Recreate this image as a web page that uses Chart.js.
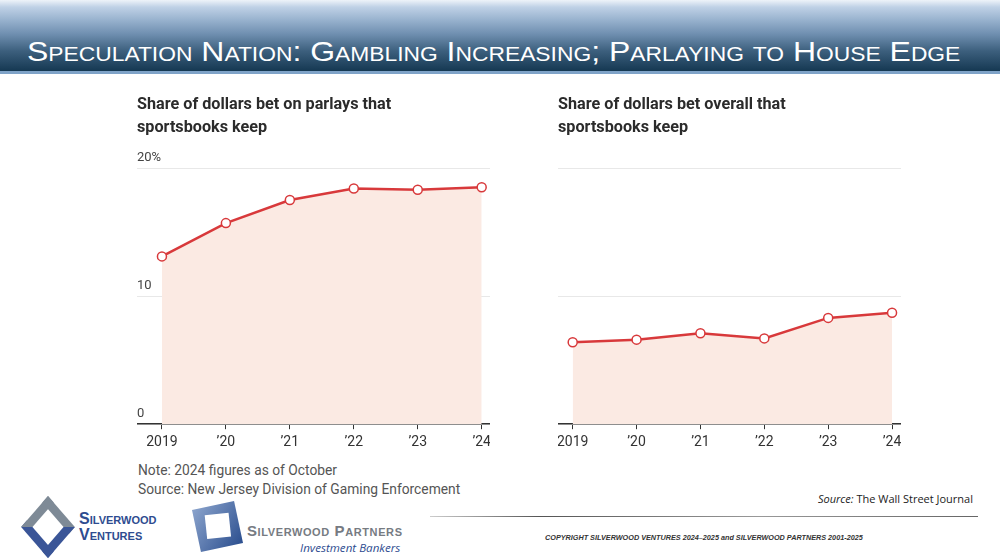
<!DOCTYPE html>
<html>
<head>
<meta charset="utf-8">
<script src="https://cdn.jsdelivr.net/npm/chart.js@4.4.1/dist/chart.umd.min.js"></script>
<style>
  html, body { margin: 0; padding: 0; background: #fff; }
  body { width: 1000px; height: 560px; position: relative; overflow: hidden; font-family: Roboto, "Noto Sans", sans-serif; }
  .header {
    position: absolute; left: 0; top: 0; width: 1000px; height: 71px;
    background: linear-gradient(to bottom, #eef3f9 0%, #bfd1e6 10%, #98b2ce 28%, #6f8fb0 48%, #3c5f7d 72%, #153852 100%);
    border-bottom: 3px solid #7fa3c8;
  }
  .header h1 {
    position: absolute; left: 27px; top: 36px; margin: 0;
    font-family: "Liberation Sans Narrow", "Arial Narrow", "Liberation Sans", sans-serif;
    font-weight: normal; font-size: 28px; line-height: 32px; color: #fff; font-variant: small-caps;
    white-space: nowrap; transform: scaleX(1.141); transform-origin: left center;
  }
  .box { position: absolute; }
  .note { position: absolute; left: 138px; top: 461px; font-size: 13.8px; line-height: 19px; color: #555; }
  .wsj { position: absolute; right: 27px; top: 491px; font-family: "Open Sans", sans-serif; font-size: 11px; color: #222; }
  .rule { position: absolute; left: 430px; top: 516px; width: 548px; height: 1px; background: linear-gradient(to right, #ccc, #555 20%, #999 60%, #666); }
  .copy { position: absolute; left: 545px; top: 533px; font-family: "Liberation Sans", sans-serif; font-size: 7.25px; font-style: italic; font-weight: bold; color: #333; white-space: nowrap; }
  .logo1 { position: absolute; left: 29px; top: 508px; width: 38px; height: 38px; transform: scaleY(1.15) rotate(45deg); border: 8px solid #3a5597; border-top-color: #7e8a96; border-left-color: #7e8a96; box-sizing: border-box; }
  .logo1t { position: absolute; left: 79px; top: 511px; font-family: "Liberation Sans", sans-serif; font-weight: bold; font-variant: small-caps; color: #2e4c90; font-size: 16px; line-height: 15.5px; }
  .logo2 { position: absolute; left: 196px; top: 505px; width: 43px; height: 43px; transform: rotate(-12deg); background: linear-gradient(135deg, #8aa3cc, #2c4f8f); }
  .logo2 i { position: absolute; left: 10px; top: 9px; width: 24px; height: 24px; background: #fff; transform: rotate(6deg); }
  .logo2t { position: absolute; left: 247px; top: 522px; font-family: "Liberation Sans", sans-serif; font-weight: bold; font-variant: small-caps; color: #767b82; font-size: 15px; letter-spacing: 0.6px; }
  .logo2s { position: absolute; left: 300px; top: 540px; font-family: "Open Sans", sans-serif; font-style: italic; color: #2e4c90; font-size: 11.6px; }
</style>
</head>
<body>
<div class="header"><h1>Speculation Nation: Gambling Increasing; Parlaying to House Edge</h1></div>

<div class="box" style="left:137px; top:93px; width:353px; height:363px;"><canvas id="parlayChart"></canvas></div>
<div class="box" style="left:558px; top:93px; width:343px; height:363px;"><canvas id="overallChart"></canvas></div>

<div class="note">Note: 2024 figures as of October<br>Source: New Jersey Division of Gaming Enforcement</div>
<div class="wsj"><i>Source:</i> The Wall Street Journal</div>
<div class="rule"></div>
<div class="copy">COPYRIGHT SILVERWOOD VENTURES 2024–2025 and SILVERWOOD PARTNERS 2001-2025</div>

<div class="logo1"></div>
<div class="logo1t">Silverwood<br>Ventures</div>
<div class="logo2"><i></i></div>
<div class="logo2t">Silverwood Partners</div>
<div class="logo2s">Investment Bankers</div>

<script>
// Datos
const years = [2019, 2020, 2021, 2022, 2023, 2024];
const yearLabels = ['2019', '’20', '’21', '’22', '’23', '’24'];
const parlayHold = [13.1, 15.7, 17.5, 18.4, 18.3, 18.5];
const overallHold = [6.4, 6.6, 7.1, 6.7, 8.3, 8.7];
const yTicks = [0, 10, 20];
const yTickLabels = ['0', '10', '20%'];

const red = '#d8393b';
const fillColor = '#fbeae3';

// quitar el padding que Chart.js reserva para las etiquetas
function noPadding(s) {
  s.paddingLeft = 0; s.paddingRight = 0; s.paddingTop = 0; s.paddingBottom = 0;
}

function makeChart(id, titleLines, values, xMin, xMax, showY) {
  return new Chart(document.getElementById(id), {
    type: 'line',
    data: {
      datasets: [{
        data: years.map((y, i) => ({ x: y, y: values[i] })),
        borderColor: red,
        borderWidth: 2.5,
        backgroundColor: fillColor,
        fill: 'origin',
        tension: 0,
        pointRadius: 4.5,
        pointBorderWidth: 1.5,
        pointBackgroundColor: '#fff',
        pointBorderColor: red,
        clip: false
      }]
    },
    options: {
      responsive: true,
      maintainAspectRatio: false,
      animation: false,
      layout: { autoPadding: false, padding: 0 },
      plugins: {
        legend: { display: false },
        tooltip: { enabled: false },
        title: {
          display: true,
          text: titleLines,
          align: 'start',
          color: '#2b2b2b',
          font: { family: 'Roboto', size: 16.2, weight: 'bold', lineHeight: 1.42 },
          padding: { top: 0, bottom: 29 }
        }
      },
      scales: {
        x: {
          type: 'linear',
          min: xMin,
          max: xMax,
          afterBuildTicks: s => { s.ticks = years.map(v => ({ value: v })); },
          afterFit: noPadding,
          grid: { drawOnChartArea: false, drawTicks: true, tickLength: 5, color: '#333' },
          border: { display: true, color: '#333', width: 1.5 },
          ticks: {
            color: '#333',
            padding: 5,
            maxRotation: 0,
            font: { family: 'Roboto', size: 14 },
            callback: v => yearLabels[years.indexOf(v)]
          }
        },
        y: {
          min: 0,
          max: 20,
          afterBuildTicks: s => { s.ticks = yTicks.map(v => ({ value: v })); },
          afterFit: noPadding,
          grid: { color: '#e8e8e8', lineWidth: 1, drawTicks: false },
          border: { display: false },
          ticks: {
            display: showY,
            mirror: true,
            padding: 0,
            labelOffset: -10,
            color: '#444',
            font: { family: 'Roboto', size: 13 },
            callback: v => yTickLabels[yTicks.indexOf(v)]
          }
        }
      }
    }
  });
}

makeChart('parlayChart', ['Share of dollars bet on parlays that', 'sportsbooks keep'], parlayHold, 2018.61, 2024.13, true);
makeChart('overallChart', ['Share of dollars bet overall that', 'sportsbooks keep'], overallHold, 2018.77, 2024.14, false);
</script>
</body>
</html>
